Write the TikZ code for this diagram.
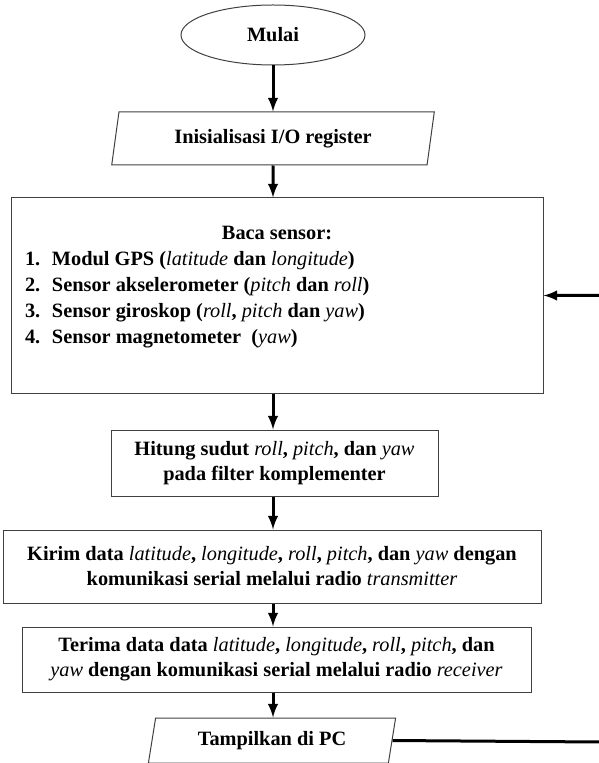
\documentclass[tikz,border=0pt]{standalone}
\usepackage{fontspec}
\setmainfont{Liberation Serif}
\usetikzlibrary{shapes,arrows,positioning,calc}
\newcommand{\term}[1]{{\mdseries\itshape #1}}

\begin{document}
\begin{tikzpicture}[x=0.6pt,y=-0.6pt,
    font=\bfseries\fontsize{12.2pt}{15pt}\selectfont,
    proc/.style={draw=black!75, line width=0.6pt, align=center, inner sep=0pt},
    io/.style={trapezium, trapezium left angle=76, trapezium right angle=104,
        trapezium stretches=true, draw=black!75, line width=0.6pt, inner sep=0pt},
    flow/.style={line width=1.8pt,-latex}]
    \useasboundingbox (0,0) rectangle (598,763);

    \node (mulai)[ellipse, draw=black!75, line width=0.6pt, inner sep=0pt,
        minimum width=110.4pt, minimum height=36pt] at (273,35) {Mulai};
    \node (init)[io, minimum width=193.8pt, minimum height=31.8pt] at (273,138.5) {Inisialisasi I/O register};
    \node (sensor)[proc, minimum width=319.2pt, minimum height=117pt] at (277,295.5) {%
        \parbox[c][117pt][t]{319.2pt}{\fontsize{12.2pt}{15.6pt}\selectfont
        \vspace*{17pt}\centering Baca sensor:\par\raggedright
        \hspace*{8.4pt}\makebox[16.2pt][l]{1.}Modul GPS (\term{latitude} dan \term{longitude})\par
        \hspace*{8.4pt}\makebox[16.2pt][l]{2.}Sensor akselerometer (\term{pitch} dan \term{roll})\par
        \hspace*{8.4pt}\makebox[16.2pt][l]{3.}Sensor giroskop (\term{roll}, \term{pitch} dan \term{yaw})\par
        \hspace*{8.4pt}\makebox[16.2pt][l]{4.}Sensor magnetometer~ (\term{yaw})\par}};
    \node (hitung)[proc, minimum width=196.2pt, minimum height=39.6pt] at (274.5,463)
        {Hitung sudut \term{roll}, \term{pitch}, dan \term{yaw}\\ pada filter komplementer};
    \node (kirim)[proc, minimum width=322.8pt, minimum height=43.8pt] at (272,566.5)
        {Kirim data \term{latitude}, \term{longitude}, \term{roll}, \term{pitch}, dan \term{yaw} dengan\\
         komunikasi serial melalui radio \term{transmitter}};
    \node (terima)[proc, minimum width=305.4pt, minimum height=39pt] at (276.5,659.5)
        {Terima data data \term{latitude}, \term{longitude}, \term{roll}, \term{pitch}, dan\\
         \term{yaw} dengan komunikasi serial melalui radio \term{receiver}};
    \node (tampil)[io, minimum width=149.4pt, minimum height=27pt] at (272,740.5) {Tampilkan di PC};

    % loop back, corner lies just past the right edge
    \coordinate (loop) at (601,742);

    \draw[flow] (mulai) -- (mulai |- init.north);
    \draw[flow] (init) -- (init |- sensor.north);
    \draw[flow] (init |- sensor.south) -- (init |- hitung.north);
    \draw[flow] (init |- hitung.south) -- (init |- kirim.north);
    \draw[flow] (init |- kirim.south) -- (init |- terima.north);
    \draw[flow] (init |- terima.south) -- (init |- tampil.north);
    \draw[flow] (tampil.east) -- (loop) |- (sensor.east);

\end{tikzpicture}
\end{document}
